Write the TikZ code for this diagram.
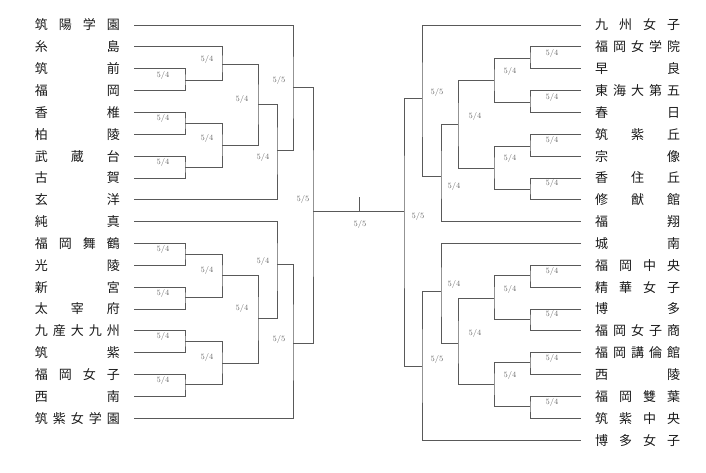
\documentclass[tikz,border=0pt]{standalone}
\usepackage{fontspec}
\newfontfamily\jpfont{Noto Sans CJK JP}

\begin{document}
\begin{tikzpicture}[x=1pt,y=-1pt,
    team/.style={inner sep=0pt,text width=85pt,text=black!90,
      font=\jpfont\fontsize{13}{13}\selectfont},
    score/.style={inner sep=0pt,text=black!60,font=\fontsize{8}{8}\selectfont},
    bracket/.style={draw=black!65,line width=0.9pt}]
  \useasboundingbox (0,0) rectangle (706,472);
  % Left teams
  \foreach \t [count=\i] in {筑\hfill 陽\hfill 学\hfill 園, 糸\hfill 島, 筑\hfill 前, 福\hfill 岡,
      香\hfill 椎, 柏\hfill 陵, 武\hfill 蔵\hfill 台, 古\hfill 賀, 玄\hfill 洋, 純\hfill 真,
      福\hfill 岡\hfill 舞\hfill 鶴, 光\hfill 陵, 新\hfill 宮, 太\hfill 宰\hfill 府,
      九\hfill 産\hfill 大\hfill 九\hfill 州, 筑\hfill 紫, 福\hfill 岡\hfill 女\hfill 子,
      西\hfill 南, 筑\hfill 紫\hfill 女\hfill 学\hfill 園}{
    \node[team,anchor=east] (Ln\i) at (120,{25+(\i-1)*21.85}) {\t};
    \coordinate (L\i) at ([xshift=14pt]Ln\i.east);
  }
  % Right teams
  \foreach \t [count=\i] in {九\hfill 州\hfill 女\hfill 子, 福\hfill 岡\hfill 女\hfill 学\hfill 院,
      早\hfill 良, 東\hfill 海\hfill 大\hfill 第\hfill 五, 春\hfill 日, 筑\hfill 紫\hfill 丘,
      宗\hfill 像, 香\hfill 住\hfill 丘, 修\hfill 猷\hfill 館, 福\hfill 翔, 城\hfill 南,
      福\hfill 岡\hfill 中\hfill 央, 精\hfill 華\hfill 女\hfill 子, 博\hfill 多,
      福\hfill 岡\hfill 女\hfill 子\hfill 商, 福\hfill 岡\hfill 講\hfill 倫\hfill 館, 西\hfill 陵,
      福\hfill 岡\hfill 雙\hfill 葉, 筑\hfill 紫\hfill 中\hfill 央, 博\hfill 多\hfill 女\hfill 子}{
    \node[team,anchor=west] (Rn\i) at (595,{25+(\i-1)*21.85}) {\t};
    \coordinate (R\i) at ([xshift=-14pt]Rn\i.west);
  }
  % Left bracket
  \foreach \m/\x/\y/\a/\b in {la/185/80/L3/L4, lb/222/64.3/L2/la, lc/185/123.5/L5/L6,
      ld/185/167/L7/L8, le/222/145/lc/ld, lf/258/104/lb/le, lg/277/150/lf/L9,
      lh/293/87.3/L1/lg, li/185/254/L11/L12, lj/185/297/L13/L14, lk/222/275.5/li/lj,
      ll/185/341/L15/L16, lm/185/384/L17/L18, ln/222/363/ll/lm, lo/258/318/lk/ln,
      lp/277/264.3/L10/lo, lq/293/343.3/lp/L19, lr/313/211.7/lh/lq}{
    \coordinate (\m) at (\x,\y);
    \draw[bracket] (\a) -| (\m) |- (\b);
  }
  % Right bracket
  \foreach \m/\x/\y/\a/\b in {ra/530/58/R2/R3, rb/530/102/R4/R5, rc/494/80/ra/rb,
      rd/530/146/R6/R7, re/530/189.5/R8/R9, rf/494/168/rd/re, rg/458/124.7/rc/rf,
      rh/441/176.7/rg/R10, ri/422/98.3/R1/rh, rj/530/275.7/R12/R13,
      rk/530/319.5/R14/R15, rl/494/298/rj/rk, rm/530/362/R16/R17, rn/530/406/R18/R19,
      ro/494/384/rm/rn, rp/458/343/rl/ro, rq/441/291/R11/rp, rr/422/366/rq/R20,
      rs/404/211.7/ri/rr}{
    \coordinate (\m) at (\x,\y);
    \draw[bracket] (\a) -| (\m) |- (\b);
  }
  % Final
  \coordinate (ctr) at (359,211.7);
  \coordinate (ctrtop) at (359,197);
  \draw[bracket] (lr) -- (rs);
  \draw[bracket] (ctr) -- (ctrtop);
  % Scores
  \foreach \n/\x/\y/\s in {la/163/75/4, lb/207/59/4, lc/163/118/4, ld/163/162/4,
      le/207/138/4, lf/242/99/4, lg/263/157/4, lh/279/80/5, li/163/249/4, lj/163/293/4,
      lk/207/270/4, ll/163/336/4, lm/163/380/4, ln/207/357/4, lo/242/308/4,
      lp/263/261/4, lq/279/339/5, lr/303/199/5, ctr/360/224/5,
      ra/552/53/4, rb/552/97/4, rc/510/71/4, rd/552/140/4, re/552/183/4, rf/510/158/4,
      rg/475/116/4, rh/454/186/4, ri/437/92/5, rs/418/216/5, rj/552/271/4,
      rk/552/314/4, rl/510/289/4, rm/552/358/4, rn/552/402/4, ro/510/375/4,
      rp/475/333/4, rq/454/284/4, rr/437/359/5}{
    \node[score] (s\n) at (\x,\y) {5/\s};
  }
\end{tikzpicture}
\end{document}
